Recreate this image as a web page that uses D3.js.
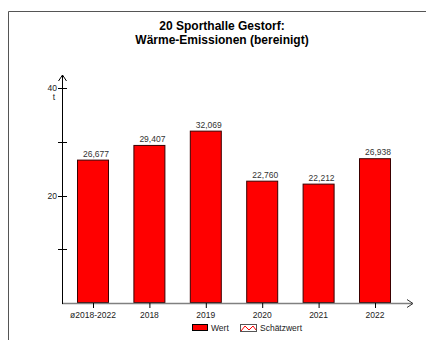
<!DOCTYPE html>
<html><head><meta charset="utf-8">
<script src="https://cdn.jsdelivr.net/npm/d3@7"></script>
<style>body{margin:0;background:#fff}svg{display:block}text{font-family:"Liberation Sans",Arial,sans-serif}</style>
</head><body>
<script>
const categories = ["ø2018-2022","2018","2019","2020","2021","2022"];
const values = [26.677, 29.407, 32.069, 22.760, 22.212, 26.938];
const valueLabels = ["26,677","29,407","32,069","22,760","22,212","26,938"];
const yTicksMajor = [20, 40];
const yTicksMinor = [10, 30];
const titleLines = ["20 Sporthalle Gestorf:", "Wärme-Emissionen (bereinigt)"];
const unit = "t";
const legendItems = ["Wert", "Schätzwert"];

const W = 426, H = 340;
const svg = d3.select("body").append("svg").attr("width", W).attr("height", H);

// frame
svg.append("path").attr("d", `M8.5,${H} V11.5 H${W}`).attr("fill","none").attr("stroke","#555").attr("stroke-width",1);

// title
svg.append("text").attr("x",222).attr("y",30).attr("text-anchor","middle")
  .attr("font-size",12).attr("font-weight","bold").text(titleLines[0]);
svg.append("text").attr("x",222).attr("y",44).attr("text-anchor","middle")
  .attr("font-size",12).attr("font-weight","bold").text(titleLines[1]);

const x = d3.scalePoint().domain(categories).range([93, 375]);
const y = d3.scaleLinear().domain([0, 40]).range([303, 88]);
const barW = 32;
const axisX = 62;

// bars
const g = svg.append("g");
g.selectAll("rect.bar").data(values).join("rect")
  .attr("x",(d,i)=>x(categories[i])-barW/2+0.5)
  .attr("y",d=>y(d)+0.5)
  .attr("width",barW-1)
  .attr("height",d=>y(0)-y(d)-1)
  .attr("fill","#ff0000").attr("stroke","#3a0000").attr("stroke-width",1);

// value labels
g.selectAll("text.val").data(values).join("text")
  .attr("x",(d,i)=>x(categories[i])+3).attr("y",d=>y(d)-3)
  .attr("text-anchor","middle").attr("font-size",8.5).attr("fill","#333")
  .text((d,i)=>valueLabels[i]);

// x axis (gray) with arrow
svg.append("line").attr("x1",axisX).attr("x2",412).attr("y1",y(0)+0.5).attr("y2",y(0)+0.5)
  .attr("stroke","#808080").attr("stroke-width",1.5);
svg.append("path").attr("d",`M407,${y(0)-3.5} L413,${y(0)+0.5} L407,${y(0)+4.5}`)
  .attr("fill","none").attr("stroke","#333").attr("stroke-width",1);
// x ticks
svg.selectAll("line.xt").data(categories).join("line")
  .attr("x1",d=>x(d)+0.5).attr("x2",d=>x(d)+0.5).attr("y1",y(0)).attr("y2",y(0)+5)
  .attr("stroke","#000");
svg.selectAll("text.xl").data(categories).join("text")
  .attr("x",d=>x(d)).attr("y",y(0)+15).attr("text-anchor","middle")
  .attr("font-size",8.5).attr("fill","#222").text(d=>d);

// y axis with arrow
svg.append("line").attr("x1",axisX+0.5).attr("x2",axisX+0.5).attr("y1",75).attr("y2",y(0)+1)
  .attr("stroke","#000").attr("stroke-width",1);
svg.append("path").attr("d",`M${axisX-3.5},81 L${axisX+0.5},75 L${axisX+4.5},81`)
  .attr("fill","none").attr("stroke","#000").attr("stroke-width",1);
svg.selectAll("line.yt").data(yTicksMajor.concat(yTicksMinor)).join("line")
  .attr("x1",axisX-4).attr("x2",axisX+5).attr("y1",d=>Math.round(y(d))+0.5).attr("y2",d=>Math.round(y(d))+0.5)
  .attr("stroke","#000");
svg.selectAll("text.yl").data(yTicksMajor).join("text")
  .attr("x",axisX-5).attr("y",d=>y(d)+3).attr("text-anchor","end")
  .attr("font-size",8.5).attr("fill","#222").text(d=>d);
svg.append("text").attr("x",axisX-8).attr("y",y(40)+12).attr("text-anchor","middle")
  .attr("font-size",8.5).attr("fill","#222").text(unit);

// legend
const ly = 328;
svg.append("rect").attr("x",192.5).attr("y",ly-3.5).attr("width",15).attr("height",6)
  .attr("fill","#ff0000").attr("stroke","#000");
svg.append("text").attr("x",211).attr("y",ly+3).attr("font-size",8.5).attr("fill","#222").text(legendItems[0]);
svg.append("rect").attr("x",240.5).attr("y",ly-3.5).attr("width",16).attr("height",7)
  .attr("fill","#fff").attr("stroke","#555");
svg.append("path").attr("d",`M241,${ly+3} L245,${ly-2} L249,${ly+2} L253,${ly-2} L256,${ly+2}`)
  .attr("fill","none").attr("stroke","#ff0000").attr("stroke-width",1);
svg.append("text").attr("x",260).attr("y",ly+3).attr("font-size",8.5).attr("fill","#222").text(legendItems[1]);
</script>
</body></html>
